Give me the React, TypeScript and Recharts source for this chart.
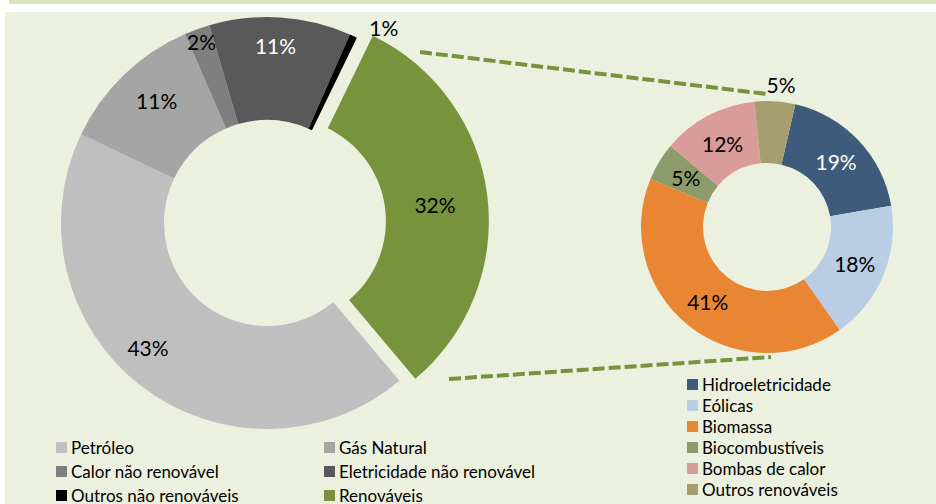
import React from "react";
import { PieChart, Pie, Cell } from "recharts";

// final energy consumption by source (%)
const sources = [
  "Petróleo",
  "Gás Natural",
  "Calor não renovável",
  "Eletricidade não renovável",
  "Outros não renováveis",
  "Renováveis",
];
const sourceShares = [43.2, 11.4, 2.0, 11.1, 0.6, 31.7];

// breakdown of the renewable share (%)
const renewables = [
  "Hidroeletricidade",
  "Eólicas",
  "Biomassa",
  "Biocombustíveis",
  "Bombas de calor",
  "Outros renováveis",
];
const renewableShares = [18.7, 17.9, 41.0, 4.9, 12.3, 5.2];

const SOURCE_COLORS = ["#bfbfbf", "#a5a5a5", "#7f7f7f", "#595959", "#000000", "#77933c"];
const RENEW_COLORS = ["#3f5b7b", "#b9cde5", "#e88634", "#8c9a6c", "#da9c9a", "#a59e6e"];

const FONT = "Lato, 'Open Sans', sans-serif";
const RAD = Math.PI / 180;

// label placement (radius, clockwise angle nudge)
const MAIN_LABEL = [
  { r: 172, da: 6 },
  { r: 165, da: 2 },
  { r: 193, da: 0 },
  { r: 178, da: -1 },
  { r: 228, da: 6 },
  { r: 153, da: 1 },
];
const SMALL_LABEL = [
  { r: 95, da: 0 },
  { r: 95, da: 0 },
  { r: 95, da: 0 },
  { r: 95, da: 0 },
  { r: 95, da: 0 },
  { r: 143, da: 2 },
];

const MAIN = { cx: 267, cy: 223, inner: 103, outer: 206, startCW: 140, explode: 16 };
const SMALL = { cx: 767, cy: 227, inner: 64, outer: 126, startCW: 13 };

const mainData = sources.map((name, i) => ({ name, value: sourceShares[i] }));
const smallData = renewables.map((name, i) => ({ name, value: renewableShares[i] }));

const RENEW_IDX = sources.length - 1;
const total = sourceShares.reduce((a, b) => a + b, 0);
const before = sourceShares.slice(0, RENEW_IDX).reduce((a, b) => a + b, 0);
const renewMid = (MAIN.startCW + (360 * (before + sourceShares[RENEW_IDX] / 2)) / total) * RAD;
const exCx = MAIN.cx + Math.sin(renewMid) * MAIN.explode;
const exCy = MAIN.cy - Math.cos(renewMid) * MAIN.explode;

function makeLabel(cfg: { r: number; da: number }[], whiteIdx: number, show: (i: number) => boolean) {
  return (p: any) => {
    if (!show(p.index)) return null;
    const c = cfg[p.index];
    const a = (p.midAngle - c.da) * RAD;
    const x = p.cx + c.r * Math.cos(a);
    const y = p.cy - c.r * Math.sin(a);
    return (
      <text
        x={x}
        y={y}
        textAnchor="middle"
        dominantBaseline="central"
        fill={p.index === whiteIdx ? "#ffffff" : "#000000"}
        fontSize={21}
        fontFamily={FONT}
      >
        {Math.round(p.value)}%
      </text>
    );
  };
}

function LegendItem({ color, label }: { color: string; label: string }) {
  return (
    <div style={{ display: "flex", alignItems: "center", height: 20, whiteSpace: "nowrap" }}>
      <span style={{ width: 11, height: 11, background: color, marginRight: 4, flex: "none" }} />
      <span>{label}</span>
    </div>
  );
}

export default function App() {
  return (
    <div
      style={{
        position: "absolute",
        left: 0,
        top: 0,
        width: 936,
        height: 504,
        background: "#ffffff",
        overflow: "hidden",
        fontFamily: FONT,
        fontSize: 17,
        color: "#000",
      }}
    >
      <div style={{ position: "absolute", left: 9, top: 0, width: 927, height: 4, background: "#d8e4bc" }} />
      <div style={{ position: "absolute", left: 5, top: 12, width: 931, height: 492, background: "#ebf1de" }} />

      <div style={{ position: "absolute", left: 0, top: 0 }}>
        <PieChart width={936} height={504} margin={{ top: 0, right: 0, bottom: 0, left: 0 }}>
          <Pie
            data={mainData}
            dataKey="value"
            cx={MAIN.cx}
            cy={MAIN.cy}
            innerRadius={MAIN.inner}
            outerRadius={MAIN.outer}
            startAngle={90 - MAIN.startCW}
            endAngle={90 - MAIN.startCW - 360}
            stroke="none"
            labelLine={false}
            label={makeLabel(MAIN_LABEL, 3, (i) => i !== RENEW_IDX)}
            isAnimationActive={false}
          >
            {mainData.map((d, i) => (
              <Cell key={d.name} fill={i === RENEW_IDX ? "transparent" : SOURCE_COLORS[i]} />
            ))}
          </Pie>
          <Pie
            data={mainData}
            dataKey="value"
            cx={exCx}
            cy={exCy}
            innerRadius={MAIN.inner}
            outerRadius={MAIN.outer}
            startAngle={90 - MAIN.startCW}
            endAngle={90 - MAIN.startCW - 360}
            stroke="none"
            labelLine={false}
            label={makeLabel(MAIN_LABEL, 3, (i) => i === RENEW_IDX)}
            isAnimationActive={false}
          >
            {mainData.map((d, i) => (
              <Cell key={d.name} fill={i === RENEW_IDX ? SOURCE_COLORS[i] : "transparent"} />
            ))}
          </Pie>
          <Pie
            data={smallData}
            dataKey="value"
            cx={SMALL.cx}
            cy={SMALL.cy}
            innerRadius={SMALL.inner}
            outerRadius={SMALL.outer}
            startAngle={90 - SMALL.startCW}
            endAngle={90 - SMALL.startCW - 360}
            stroke="none"
            labelLine={false}
            label={makeLabel(SMALL_LABEL, 0, () => true)}
            isAnimationActive={false}
          >
            {smallData.map((d, i) => (
              <Cell key={d.name} fill={RENEW_COLORS[i]} />
            ))}
          </Pie>
        </PieChart>
      </div>

      {/* connector lines between the renewable slice and its breakdown */}
      <svg width={936} height={504} style={{ position: "absolute", left: 0, top: 0, pointerEvents: "none" }}>
        <line x1={420} y1={52} x2={767} y2={94} stroke="#77933c" strokeWidth={4} strokeDasharray="12 4" />
        <line x1={449} y1={379} x2={771} y2={357} stroke="#77933c" strokeWidth={4} strokeDasharray="12 4" />
      </svg>

      <div style={{ position: "absolute", left: 56, top: 437 }}>
        {sources.map((s, i) => (
          <div
            key={s}
            style={{ position: "absolute", left: (i % 2) * 268, top: Math.floor(i / 2) * 24 }}
          >
            <LegendItem color={SOURCE_COLORS[i]} label={s} />
          </div>
        ))}
      </div>

      <div style={{ position: "absolute", left: 687, top: 374 }}>
        {renewables.map((s, i) => (
          <div key={s} style={{ position: "absolute", left: 0, top: i * 21.1 }}>
            <LegendItem color={RENEW_COLORS[i]} label={s} />
          </div>
        ))}
      </div>
    </div>
  );
}
